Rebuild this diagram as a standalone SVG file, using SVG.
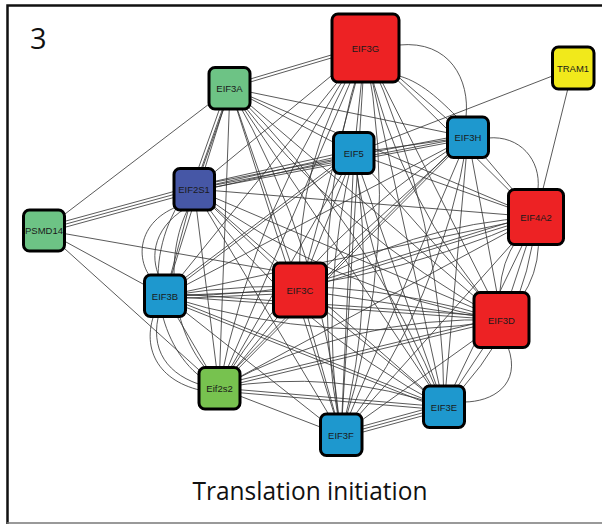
<svg xmlns="http://www.w3.org/2000/svg" width="602" height="524" viewBox="0 0 602 524">
<style>
.e{stroke:#333;stroke-width:0.9;fill:none;stroke-opacity:0.9}
.n rect{stroke:#000;stroke-width:3;rx:6;ry:6}
.n text{font-family:"Liberation Sans",Arial,sans-serif;font-size:9.5px;fill:#1a1a1a;text-anchor:middle;dominant-baseline:central}
.red{fill:#ED2224}.blue{fill:#1E98CE}.green{fill:#6DC385}.navy{fill:#4657A6}.yellow{fill:#F1E91B}.lime{fill:#77C24F}
.t{font-family:"Open Sans","Noto Sans",sans-serif;fill:#111}
</style>
<rect width="602" height="524" fill="#fff"/>
<path d="M7.5,524 V5.5 H602" fill="none" stroke="#111" stroke-width="2.5"/>
<line x1="7" y1="523" x2="602" y2="523" stroke="#777" stroke-width="1.5"/>
<text class="t" x="30" y="49" font-size="29">3</text>
<text class="t" x="310" y="500" font-size="25" text-anchor="middle" textLength="235" lengthAdjust="spacingAndGlyphs">Translation initiation</text>
<g id="connectors">
<path class="e" d="M365,48L468,137M365,48L354,153M365,48L536,217M365,48L230,88M365,48L194,189M365,48L165,296M365,48L219,388M365,48L300,290M365,48L502,320M365,48L444,407M365,48L341,435"/>
<path class="e" d="M468,137L354,153M468,137L536,217M468,137L230,88M468,137L194,189M468,137L165,296M468,137L219,388M468,137L300,290M468,137L502,320M468,137L444,407M468,137L341,435"/>
<path class="e" d="M354,153L536,217M354,153L230,88M354,153L194,189M354,153L165,296M354,153L219,388M354,153L300,290M354,153L502,320M354,153L444,407M354,153L341,435"/>
<path class="e" d="M536,217L230,88M536,217L194,189M536,217L165,296M536,217L219,388M536,217L300,290M536,217L502,320M536,217L444,407M536,217L341,435"/>
<path class="e" d="M230,88L194,189M230,88L165,296M230,88L219,388M230,88L300,290M230,88L502,320M230,88L444,407M230,88L341,435"/>
<path class="e" d="M194,189L165,296M194,189L219,388M194,189L300,290M194,189L502,320M194,189L444,407M194,189L341,435"/>
<path class="e" d="M165,296L219,388M165,296L300,290M165,296L502,320M165,296L444,407M165,296L341,435"/>
<path class="e" d="M219,388L300,290M219,388L502,320M219,388L444,407M219,388L341,435"/>
<path class="e" d="M300,290L502,320M300,290L444,407M300,290L341,435"/>
<path class="e" d="M502,320L444,407M502,320L341,435M444,407L341,435"/>
<path class="e" d="M194,186L354,150M194,192L354,156M194,186L468,134M194,191L468,139M230,91L194,192M227,88L191,189M165,299L300,293M165,293L502,317M219,391L444,410M341,432L444,404M341,438L444,410M165,299L444,410M219,385L502,317M230,85L365,45M300,287L536,214M165,293L354,150M219,385L468,134"/>
<path class="e" d="M365,48Q294,159 300,290M365,48Q303,238 341,435M365,48Q403,244 341,435M365,48Q255,202 219,388M365,48Q444,219 444,407M230,88Q340,234 502,320M194,189Q332,291 502,320M165,296Q336,268 502,320M165,296Q331,348 502,320M165,296Q359,296 536,217M219,388Q351,315 502,320M219,388Q334,368 444,407M354,153Q318,293 341,435M354,153Q378,295 341,435M468,137Q315,234 219,388M468,137Q441,302 341,435M536,217Q491,259 502,320M536,217Q548,278 502,320M536,217Q526,329 444,407M230,88Q324,249 341,435M194,189Q293,328 444,407M230,88Q370,225 444,407M365,48Q398,202 502,320M354,153Q371,290 444,407M300,290Q409,225 536,217"/>
<path class="e" d="M399,45C450,40 470,80 466,117M488,138C520,135 541,160 538,189M508,347C522,385 492,402 464,402M182,205C135,220 133,265 158,285M186,208C150,230 150,262 162,282M160,310C148,350 168,376 205,386M155,312C140,350 160,385 210,392M190,205C160,260 175,340 212,375M178,205C140,270 160,350 205,380M395,75C420,80 440,100 460,120"/>
<path class="e" d="M44,230L230,88M44,227L194,186M44,230L194,189M44,233L194,192M44,230L300,275M44,230L165,296M44,230L219,388M573,68L354,153M573,68L536,217"/>
</g>
<g id="EIF3G" class="n"><rect class="red" x="332" y="14" width="67" height="68"/><text x="365.5" y="48">EIF3G</text></g>
<g id="TRAM1" class="n"><rect class="yellow" x="552.5" y="47" width="41.5" height="42"/><text x="573" y="68">TRAM1</text></g>
<g id="EIF3H" class="n"><rect class="blue" x="447.5" y="117" width="41" height="40.5"/><text x="468" y="137">EIF3H</text></g>
<g id="EIF5" class="n"><rect class="blue" x="333.5" y="132.5" width="40.5" height="41"/><text x="353.7" y="153">EIF5</text></g>
<g id="EIF4A2" class="n"><rect class="red" x="508.5" y="189.5" width="55" height="55"/><text x="536" y="217">EIF4A2</text></g>
<g id="EIF3A" class="n"><rect class="green" x="209" y="67.5" width="41" height="41.5"/><text x="229.5" y="88">EIF3A</text></g>
<g id="EIF2S1" class="n"><rect class="navy" x="174" y="168.5" width="40.5" height="41.5"/><text x="194" y="189">EIF2S1</text></g>
<g id="PSMD14" class="n"><rect class="green" x="23.5" y="210" width="41" height="41"/><text x="44" y="230.5">PSMD14</text></g>
<g id="EIF3B" class="n"><rect class="blue" x="144.5" y="275" width="41" height="41.5"/><text x="165" y="296">EIF3B</text></g>
<g id="Eif2s2" class="n"><rect class="lime" x="199" y="367.5" width="41" height="41.5"/><text x="219.5" y="388">Eif2s2</text></g>
<g id="EIF3C" class="n"><rect class="red" x="273.5" y="263" width="53" height="54"/><text x="300" y="290">EIF3C</text></g>
<g id="EIF3D" class="n"><rect class="red" x="474" y="292.5" width="55" height="55"/><text x="501.5" y="320">EIF3D</text></g>
<g id="EIF3E" class="n"><rect class="blue" x="423.5" y="386" width="41" height="41.5"/><text x="444" y="407">EIF3E</text></g>
<g id="EIF3F" class="n"><rect class="blue" x="320.5" y="414" width="41.5" height="41.5"/><text x="341" y="435">EIF3F</text></g>
</svg>
